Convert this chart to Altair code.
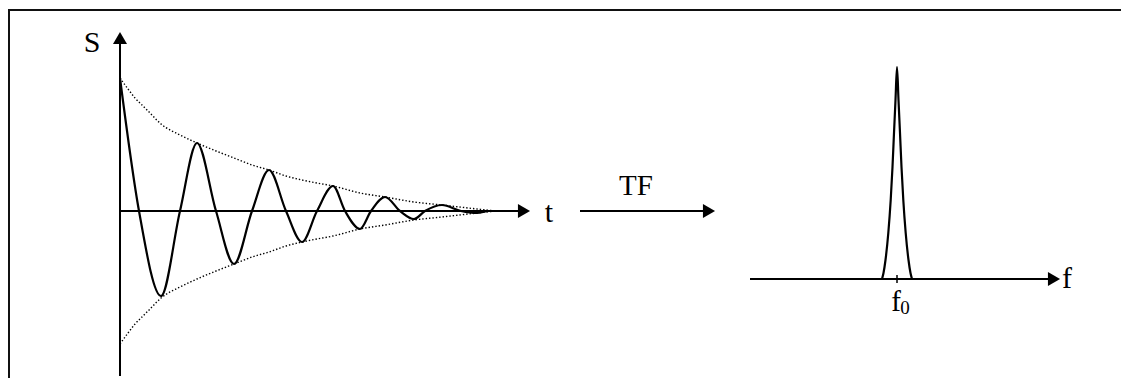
import altair as alt
import pandas as pd

# ---- data ----
# free induction decay: time (arbitrary units) and signal S
fid_t = [0, 19, 41, 60, 77, 96, 114, 132, 149, 166, 182, 197, 213, 225, 240,
         251, 265, 280, 294, 305, 322, 341, 357, 369, 376]
fid_s = [133, 0, -85, 0, 68, 0, -53, 0, 41, 0, -31, 0, 25, 0, -18,
         0, 14, 0, -8, 0, 6, 0, -2, 0, 0]
# decay envelope (magnitude)
env_t = [0, 8, 15, 23, 30, 41, 60, 77, 96, 114, 132, 149, 166, 182, 197,
         213, 240, 265, 294, 322, 357, 376]
env_a = [133, 122, 113, 105, 98, 87, 76, 68, 60, 53, 46, 41, 35, 31, 28,
         25, 18, 14, 9, 6, 2, 0]
# spectrum after Fourier transform: offset from f0 and amplitude
spec_df = [-15, -13.5, -11.5, -8.7, -6.3, -4.5, -3, -1.5, 0,
           1.5, 3, 4.5, 6.3, 8.7, 11.5, 13.5, 15]
spec_a = [0, 6, 19, 46, 79, 112, 146, 179, 212,
          179, 146, 112, 79, 46, 19, 6, 0]

# ---- layout (canvas units, 1 unit = 1 px) ----
W, H = 1113, 370
TOP = H + 8                # page y of the chart top is 8
OX, OY = 112, TOP - 211    # origin of the time-domain plot
FX, FY = 889, TOP - 279    # f0 position / baseline of spectrum
FONT = "Liberation Serif"

xs = alt.Scale(domain=[0, W], nice=False, zero=False)
ys = alt.Scale(domain=[0, H], nice=False, zero=False)


def X(f):
    return alt.X(f, type="quantitative", scale=xs, axis=None)


def Y(f):
    return alt.Y(f, type="quantitative", scale=ys, axis=None)


fid = pd.DataFrame({"X": [OX + t for t in fid_t], "Y": [OY + s for s in fid_s]})
env = pd.concat([
    pd.DataFrame({"X": [OX + t for t in env_t], "Y": [OY + a for a in env_a], "side": "up"}),
    pd.DataFrame({"X": [OX + t for t in env_t], "Y": [OY - a for a in env_a], "side": "down"}),
])
spec = pd.DataFrame({"X": [FX + d for d in spec_df], "Y": [FY + a for a in spec_a]})

# frame: left side and top, one open polyline
frame = pd.DataFrame({"X": [1, 1, W], "Y": [0, TOP - 10, TOP - 10], "k": [0, 1, 2]})

rules = pd.DataFrame([
    # S axis and t axis
    {"X": OX, "X2": OX, "Y": max(OY - 165, 0), "Y2": OY + 173, "w": 2},
    {"X": OX, "X2": OX + 404, "Y": OY, "Y2": OY, "w": 2},
    # TF arrow
    {"X": OX + 460, "X2": OX + 590, "Y": OY, "Y2": OY, "w": 2},
    # f axis
    {"X": FX - 147, "X2": FX + 157, "Y": FY, "Y2": FY, "w": 2},
    # f0 tick
    {"X": FX, "X2": FX, "Y": FY - 4, "Y2": FY + 4, "w": 1.5},
])

# white strip hiding the right edge of the drawing area (no frame there)
edge = pd.DataFrame({"X": [W], "X2": [W], "Y": [0], "Y2": [TOP - 12]})

heads_up = pd.DataFrame({"X": [OX], "Y": [OY + 173]})
heads_right = pd.DataFrame({"X": [OX + 404, OX + 589, FX + 157],
                            "Y": [OY, OY, FY]})

labels = pd.DataFrame([
    {"X": OX - 28, "Y": OY + 159, "txt": "S", "size": 30},
    {"X": OX + 429, "Y": OY - 11, "txt": "t", "size": 30},
    {"X": OX + 516, "Y": OY + 16, "txt": "TF", "size": 29},
    {"X": FX + 170, "Y": FY - 9, "txt": "f", "size": 30},
    {"X": FX - 1, "Y": FY - 32, "txt": "f", "size": 29},
    {"X": FX + 8, "Y": FY - 35, "txt": "0", "size": 19},
])

frame_layer = alt.Chart(frame).mark_line(color="#111", strokeWidth=2).encode(
    x=X("X"), y=Y("Y"), order="k:Q")

rule_layer = alt.Chart(rules).mark_rule(color="black").encode(
    x=X("X"), x2="X2", y=Y("Y"), y2="Y2",
    strokeWidth=alt.StrokeWidth("w:Q", scale=None))

env_layer = alt.Chart(env).mark_line(
    color="black", strokeWidth=1.4, strokeDash=[1.4, 2.0], interpolate="monotone"
).encode(x=X("X"), y=Y("Y"), detail="side:N")

fid_layer = alt.Chart(fid).mark_line(
    color="black", strokeWidth=2.2, interpolate="monotone"
).encode(x=X("X"), y=Y("Y"))

spec_layer = alt.Chart(spec).mark_line(
    color="black", strokeWidth=2.2, interpolate="monotone"
).encode(x=X("X"), y=Y("Y"))

up_layer = alt.Chart(heads_up).mark_point(
    shape="triangle-up", filled=True, size=196, color="black", opacity=1
).encode(x=X("X"), y=Y("Y"))

right_layer = alt.Chart(heads_right).mark_point(
    shape="triangle-right", filled=True, size=196, color="black", opacity=1
).encode(x=X("X"), y=Y("Y"))

text_layer = alt.Chart(labels).mark_text(
    font=FONT, color="black", baseline="alphabetic", align="center"
).encode(x=X("X"), y=Y("Y"), text="txt:N",
         size=alt.Size("size:Q", scale=None))

edge_layer = alt.Chart(edge).mark_rule(color="white", strokeWidth=5).encode(
    x=X("X"), x2="X2", y=Y("Y"), y2="Y2")

chart = alt.layer(
    frame_layer, rule_layer, env_layer, fid_layer, spec_layer,
    up_layer, right_layer, text_layer, edge_layer
).properties(
    width=W, height=H,
    autosize=alt.AutoSizeParams(type="none"),
    padding=0,
    background="white",
).configure_view(
    stroke="transparent", strokeWidth=0, strokeOpacity=0
)

chart.save("out.html", embed_options={"renderer": "svg", "actions": False})
